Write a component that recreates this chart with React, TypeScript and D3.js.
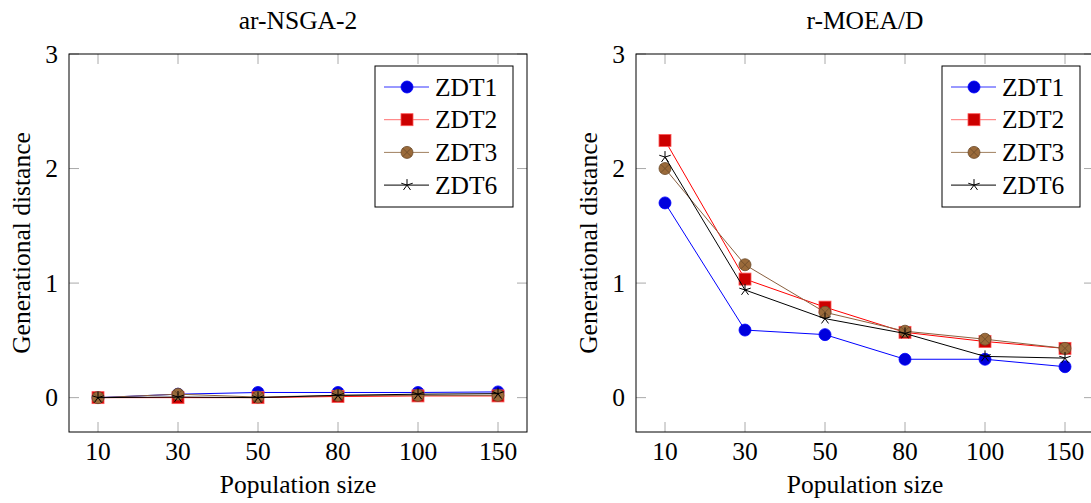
import React from "react";
import * as d3 from "d3";

const categories = ["10", "30", "50", "80", "100", "150"];
const seriesNames = ["ZDT1", "ZDT2", "ZDT3", "ZDT6"];
const yTicks = [0, 1, 2, 3];

const leftZDT1 = [0.0, 0.03, 0.045, 0.045, 0.045, 0.05];
const leftZDT2 = [0.0, 0.0, 0.0, 0.01, 0.015, 0.015];
const leftZDT3 = [0.0, 0.03, 0.005, 0.02, 0.02, 0.02];
const leftZDT6 = [0.0, 0.005, 0.0, 0.02, 0.03, 0.035];

const rightZDT1 = [1.7, 0.59, 0.55, 0.335, 0.335, 0.27];
const rightZDT2 = [2.245, 1.035, 0.79, 0.57, 0.49, 0.43];
const rightZDT3 = [2.0, 1.16, 0.745, 0.58, 0.51, 0.43];
const rightZDT6 = [2.1, 0.94, 0.69, 0.56, 0.36, 0.345];

const styles = [
  { line: "#0000ff", legendLine: "#3333ff", fill: "#0000dd", stroke: "#0000ff", mark: "circle" },
  { line: "#ff0000", legendLine: "#ff7070", fill: "#cc0000", stroke: "#ff5555", mark: "square" },
  { line: "#8a6040", legendLine: "#a08060", fill: "#9a6a3a", stroke: "#6b4a2a", mark: "otimes" },
  { line: "#000000", legendLine: "#000000", fill: "none", stroke: "#000000", mark: "star" },
];

const FONT = "Liberation Serif";
const FS = 25.5;

function Marker({ x, y, s }: { x: number; y: number; s: any }) {
  if (s.mark === "circle") return <circle cx={x} cy={y} r={6} fill={s.fill} stroke={s.stroke} strokeWidth={0.8} />;
  if (s.mark === "square")
    return <rect x={x - 6} y={y - 6} width={12} height={12} fill={s.fill} stroke={s.stroke} strokeWidth={0.8} />;
  if (s.mark === "otimes") {
    const r = 6;
    const d = r * 0.7071;
    return (
      <g>
        <circle cx={x} cy={y} r={r} fill={s.fill} stroke={s.stroke} strokeWidth={0.8} />
        <path d={`M${x - d},${y - d}L${x + d},${y + d}M${x - d},${y + d}L${x + d},${y - d}`} stroke={s.stroke} strokeWidth={0.8} />
      </g>
    );
  }
  const r = 6;
  let p = "";
  for (let i = 0; i < 5; i++) {
    const a = -Math.PI / 2 + (i * 2 * Math.PI) / 5;
    p += `M${x},${y}L${x + r * Math.cos(a)},${y + r * Math.sin(a)}`;
  }
  return <path d={p} stroke={s.stroke} strokeWidth={1} fill="none" />;
}

function Panel({ left, title, data }: { left: number; title: string; data: number[][] }) {
  const width = 458;
  const top = 54;
  const bottom = 432;
  const right = left + width;
  const x = d3.scaleLinear().domain([-0.3625, 5.3625]).range([left, right]);
  const y = d3.scaleLinear().domain([-0.3, 3]).range([bottom, top]);
  const line = d3
    .line<number>()
    .x((_, i) => x(i))
    .y((d) => y(d));
  const tickColor = "#aaaaaa";
  const tl = 10;
  const lgL = right - 152;
  const lgT = top + 12;
  const txt = { fontSize: FS, style: { fontFamily: FONT } };
  return (
    <g>
      <text x={(left + right) / 2} y={28.5} textAnchor="middle" {...txt}>
        {title}
      </text>
      {yTicks.map((t) => (
        <g key={"y" + t}>
          <line x1={left} x2={left + tl} y1={y(t)} y2={y(t)} stroke={tickColor} />
          <line x1={right - tl} x2={right} y1={y(t)} y2={y(t)} stroke={tickColor} />
          <text x={left - 11} y={y(t) + 8.5} textAnchor="end" {...txt}>
            {t}
          </text>
        </g>
      ))}
      {categories.map((c, i) => (
        <g key={"x" + c}>
          <line x1={x(i)} x2={x(i)} y1={bottom} y2={bottom - tl} stroke={tickColor} />
          <line x1={x(i)} x2={x(i)} y1={top} y2={top + tl} stroke={tickColor} />
          <text x={x(i)} y={460} textAnchor="middle" {...txt}>
            {c}
          </text>
        </g>
      ))}
      <text x={(left + right) / 2} y={493} textAnchor="middle" {...txt}>
        Population size
      </text>
      <text transform={`translate(${left - 39},${(top + bottom) / 2}) rotate(-90)`} textAnchor="middle" {...txt}>
        Generational distance
      </text>
      {data.map((s, k) => (
        <g key={"s" + k}>
          <path d={line(s) || ""} fill="none" stroke={styles[k].line} strokeWidth={1} />
          {s.map((v, i) => (
            <Marker key={i} x={x(i)} y={y(v)} s={styles[k]} />
          ))}
        </g>
      ))}
      <rect x={left} y={top} width={width} height={bottom - top} fill="none" stroke="#000" strokeWidth={1} />
      <g>
        <rect x={lgL} y={lgT} width={138} height={141} fill="#fff" stroke="#000" strokeWidth={1} />
        {seriesNames.map((n, k) => {
          const cy = lgT + 21 + k * 32.7;
          return (
            <g key={n}>
              <line x1={lgL + 9} x2={lgL + 54} y1={cy} y2={cy} stroke={styles[k].legendLine} />
              <Marker x={lgL + 32} y={cy} s={styles[k]} />
              <text x={lgL + 60} y={cy + 8.5} {...txt}>
                {n}
              </text>
            </g>
          );
        })}
      </g>
    </g>
  );
}

export default function App() {
  return (
    <svg width={1091} height={503} style={{ position: "absolute", left: 0, top: 0, background: "#fff" }}>
      <Panel left={69} title="ar-NSGA-2" data={[leftZDT1, leftZDT2, leftZDT3, leftZDT6]} />
      <Panel left={636} title="r-MOEA/D" data={[rightZDT1, rightZDT2, rightZDT3, rightZDT6]} />
    </svg>
  );
}
